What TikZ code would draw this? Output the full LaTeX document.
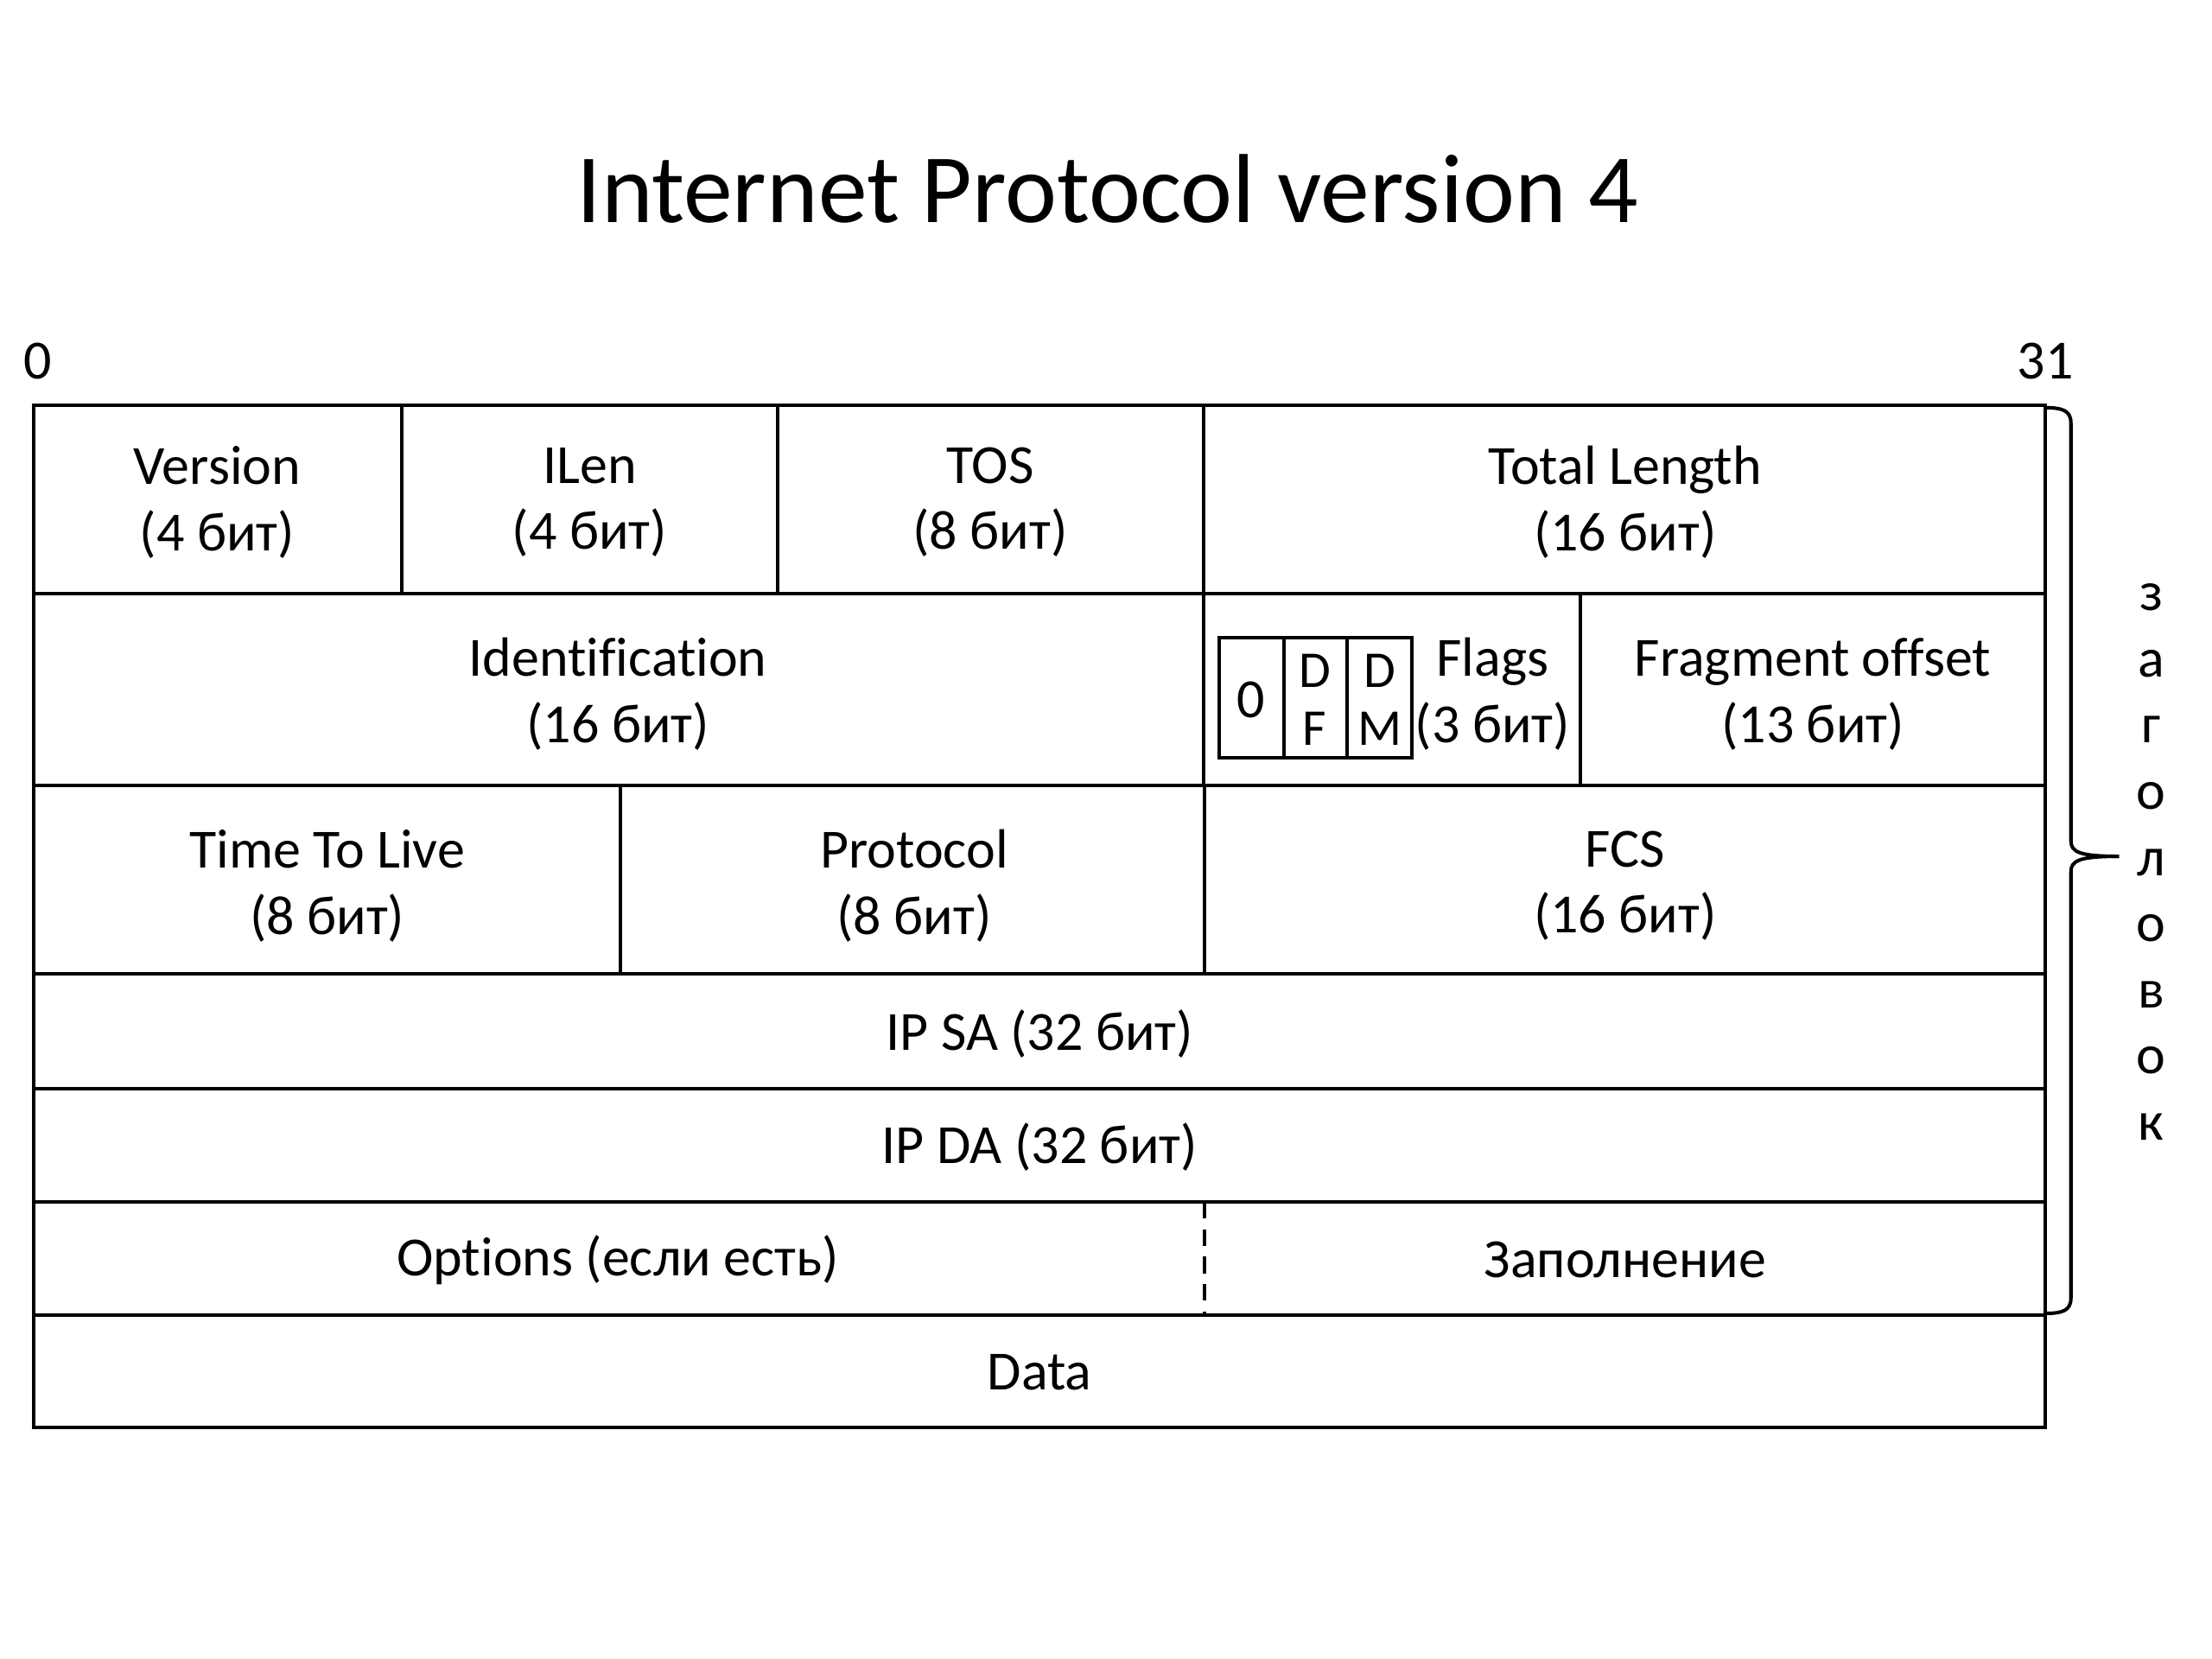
\documentclass[tikz,border=0pt]{standalone}
\usepackage{fontspec}
\setmainfont{Carlito}[Ligatures=NoCommon]
\begin{document}
\begin{tikzpicture}[x=0.01632653cm,y=-0.01632653cm,
  cellline/.style={draw=black, line width=1.15pt},
  lab/.style={align=center, font=\fontsize{18.2}{21.8}\selectfont, inner sep=0pt},
  small/.style={align=center, font=\fontsize{17}{19}\selectfont, inner sep=0pt},
  ttl/.style={font=\fontsize{32.3}{38}\selectfont, inner sep=0pt}]
\useasboundingbox (0,0) rectangle (1568,1176);
% title and bit marks
\node[ttl] (title) at (785,134) {Internet Protocol version 4};
\node[lab,anchor=center] (b0) at (27,256) {0};
\node[lab,anchor=center] (b31) at (1450,256) {31};
% row 1
\draw[cellline] (24,287) rectangle (285,421);
\draw[cellline] (285,287) rectangle (551,421);
\draw[cellline] (551,287) rectangle (853,421);
\draw[cellline] (853,287) rectangle (1450,421);
\node[lab] (ver) at (154,356) {Version\\(4 бит)};
\node[lab] (ilen) at (418,356) {ILen\\(4 бит)};
\node[lab] (tos) at (702,356) {TOS\\(8 бит)};
\node[lab] (tlen) at (1152,356) {Total Length\\(16 бит)};
% row 2
\draw[cellline] (24,421) rectangle (853,557);
\draw[cellline] (853,421) rectangle (1120,557);
\draw[cellline] (1120,421) rectangle (1450,557);
\node[lab] (ident) at (438,492) {Identification\\(16 бит)};
\draw[cellline] (864,452) rectangle (910,537);
\draw[cellline] (910,452) rectangle (955,537);
\draw[cellline] (955,452) rectangle (1001,537);
\node[lab] (f0) at (887,496) {0};
\node[small] (fdf) at (932,496) {D\\F};
\node[small] (fdm) at (978,496) {D\\M};
\node[lab] (flags) at (1058,492) {Flags\\(3 бит)};
\node[lab] (frag) at (1285,492) {Fragment offset\\(13 бит)};
% row 3
\draw[cellline] (24,557) rectangle (440,690);
\draw[cellline] (440,557) rectangle (854,690);
\draw[cellline] (854,557) rectangle (1450,690);
\node[lab] (ttl) at (232,628) {Time To Live\\(8 бит)};
\node[lab] (proto) at (648,628) {Protocol\\(8 бит)};
\node[lab] (fcs) at (1152,628) {FCS\\(16 бит)};
% row 4-5
\draw[cellline] (24,690) rectangle (1450,772);
\node[lab] (sa) at (737,733) {IP SA (32 бит)};
\draw[cellline] (24,772) rectangle (1450,852);
\node[lab] (da) at (737,813) {IP DA (32 бит)};
% row 6
\draw[cellline] (24,852) rectangle (1450,932);
\draw[cellline,dash pattern=on 5.5pt off 3.5pt] (854,852) -- (854,932);
\node[lab] (opt) at (438,893) {Options (если есть)};
\node[lab] (pad) at (1152,893) {Заполнение};
% row 7
\draw[cellline] (24,932) rectangle (1450,1012);
\node[lab] (data) at (737,973) {Data};
% brace
\coordinate (btop) at (1450,289);
\coordinate (bbot) at (1450,931);
\coordinate (btip) at (1502,607);
\draw[line width=1.15pt] (btop) .. controls (1462,289) and (1468,291) .. (1468,300)
  -- (1468,596) .. controls (1468,604) and (1474,607) .. (btip);
\draw[line width=1.15pt] (bbot) .. controls (1462,931) and (1468,929) .. (1468,920)
  -- (1468,618) .. controls (1468,610) and (1474,607) .. (btip);
\node[lab] (hdr) at (1525,611) {з\\а\\г\\о\\л\\о\\в\\о\\к};
\end{tikzpicture}
\end{document}
